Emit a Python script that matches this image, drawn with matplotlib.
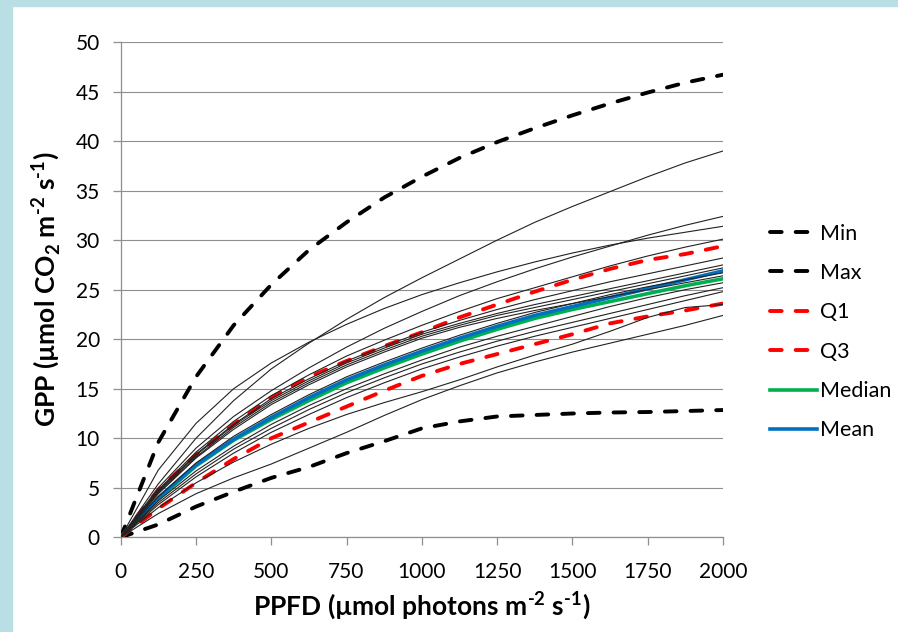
import matplotlib.pyplot as plt
from matplotlib.patches import Rectangle

plt.rcParams['font.family'] = ['Lato', 'DejaVu Sans']
plt.rcParams['mathtext.fontset'] = 'custom'
plt.rcParams['mathtext.rm'] = 'Lato:bold'
plt.rcParams['mathtext.bf'] = 'Lato:bold'

# PPFD steps
ppfd = [0, 125, 250, 375, 500, 625, 750, 875, 1000, 1125, 1250, 1375, 1500, 1625, 1750, 1875, 2000]

gpp_min = [0, 1.3, 3.1, 4.6, 6.0, 7.1, 8.5, 9.7, 11.0, 11.7, 12.2, 12.35, 12.5, 12.6, 12.65, 12.75, 12.85]
gpp_max = [0, 9.6, 16.2, 21.4, 25.5, 29.0, 31.8, 34.3, 36.4, 38.3, 39.9, 41.3, 42.6, 43.8, 44.9, 45.9, 46.7]
gpp_q1 = [0, 4.8, 8.3, 11.4, 14.1, 16.2, 17.8, 19.3, 20.7, 22.2, 23.5, 24.8, 26.0, 27.1, 28.0, 28.6, 29.4]
gpp_q3 = [0, 2.9, 5.5, 7.9, 10.0, 11.6, 13.2, 14.8, 16.3, 17.5, 18.5, 19.5, 20.5, 21.6, 22.3, 22.9, 23.6]
gpp_median = [0, 3.9, 7.2, 9.8, 11.9, 13.8, 15.6, 17.1, 18.5, 19.8, 21.0, 22.1, 23.0, 23.8, 24.6, 25.4, 26.1]
gpp_mean = [0, 4.0, 7.3, 9.9, 12.1, 14.1, 15.9, 17.4, 18.8, 20.1, 21.3, 22.4, 23.3, 24.2, 25.1, 26.0, 26.9]

# individual sites (thin black)
sites = [
    [0, 5.4, 10.0, 13.8, 17.0, 19.6, 22.0, 24.2, 26.2, 28.1, 30.0, 31.8, 33.4, 34.9, 36.4, 37.8, 39.0],
    [0, 6.8, 11.5, 15.0, 17.6, 19.7, 21.5, 23.1, 24.5, 25.7, 26.8, 27.8, 28.7, 29.5, 30.2, 30.8, 31.4],
    [0, 5.0, 9.0, 12.2, 14.8, 17.1, 19.2, 21.1, 22.8, 24.4, 25.8, 27.1, 28.3, 29.4, 30.5, 31.5, 32.4],
    [0, 4.8, 8.6, 11.7, 14.3, 16.4, 18.3, 19.9, 21.4, 22.8, 24.1, 25.2, 26.3, 27.4, 28.4, 29.3, 30.1],
    [0, 4.7, 8.4, 11.4, 14.0, 16.0, 17.8, 19.3, 20.7, 21.9, 23.0, 24.0, 24.9, 25.8, 26.6, 27.4, 28.2],
    [0, 4.6, 8.3, 11.3, 13.8, 15.8, 17.6, 19.1, 20.5, 21.6, 22.6, 23.5, 24.3, 25.1, 25.9, 26.7, 27.5],
    [0, 4.5, 8.1, 11.1, 13.6, 15.6, 17.4, 18.9, 20.3, 21.4, 22.4, 23.2, 24.0, 24.8, 25.6, 26.4, 27.2],
    [0, 4.4, 8.0, 10.9, 13.4, 15.4, 17.2, 18.7, 20.1, 21.2, 22.1, 22.9, 23.6, 24.3, 25.0, 25.7, 26.4],
    [0, 4.1, 7.5, 10.2, 12.4, 14.4, 16.2, 17.7, 19.1, 20.4, 21.6, 22.7, 23.6, 24.5, 25.3, 26.0, 26.7],
    [0, 3.7, 6.7, 9.2, 11.4, 13.3, 15.0, 16.5, 17.9, 19.2, 20.3, 21.3, 22.3, 23.3, 24.2, 25.0, 25.7],
    [0, 3.5, 6.4, 8.9, 11.0, 12.9, 14.6, 16.1, 17.5, 18.7, 19.8, 20.8, 21.7, 22.6, 23.5, 24.4, 25.2],
    [0, 3.3, 6.1, 8.5, 10.6, 12.4, 14.1, 15.6, 17.0, 18.2, 19.3, 20.3, 21.2, 22.1, 23.0, 23.9, 24.8],
    [0, 3.0, 5.5, 7.6, 9.4, 11.0, 12.4, 13.6, 14.7, 15.9, 17.2, 18.4, 19.5, 20.8, 22.2, 23.2, 23.5],
    [0, 2.4, 4.4, 6.0, 7.4, 9.0, 10.6, 12.3, 13.9, 15.3, 16.6, 17.7, 18.7, 19.6, 20.5, 21.4, 22.4],
]

fig = plt.figure(figsize=(8.98, 6.32), dpi=100)
# light blue frame at the left and top
fig.patches.append(Rectangle((0, 0), 12 / 898, 1, transform=fig.transFigure, color='#b9dfe4', zorder=0))
fig.patches.append(Rectangle((0, 1 - 6 / 632), 1, 6 / 632, transform=fig.transFigure, color='#b9dfe4', zorder=0))

ax = fig.add_axes([0.1344, 0.1498, 0.6707, 0.7837])

for s in sites:
    ax.plot(ppfd, s, color='#222222', lw=0.8, zorder=5)

dash = (0, (3.0, 3.6))
ax.plot(ppfd, gpp_min, color='black', lw=2.8, ls=dash, dash_capstyle='round', label='Min', zorder=3)
ax.plot(ppfd, gpp_max, color='black', lw=2.8, ls=dash, dash_capstyle='round', label='Max', zorder=3)
ax.plot(ppfd, gpp_q1, color='#ff0000', lw=2.8, ls=dash, dash_capstyle='round', label='Q1', zorder=3)
ax.plot(ppfd, gpp_q3, color='#ff0000', lw=2.8, ls=dash, dash_capstyle='round', label='Q3', zorder=3)
ax.plot(ppfd, gpp_median, color='#00b050', lw=2.6, label='Median', zorder=4)
ax.plot(ppfd, gpp_mean, color='#0070c0', lw=2.6, label='Mean', zorder=4)

ax.set_xlim(0, 2000)
ax.set_ylim(0, 50)
ax.set_xticks(range(0, 2001, 250))
ax.set_yticks(range(0, 51, 5))
ax.grid(axis='y', color='#8f8f8f', lw=0.8)
ax.set_axisbelow(True)
for side in ['top', 'right']:
    ax.spines[side].set_visible(False)
for side in ['left', 'bottom']:
    ax.spines[side].set_color('#8f8f8f')
    ax.spines[side].set_linewidth(0.9)
ax.tick_params(axis='both', colors='#8f8f8f', labelcolor='black', labelsize=15, length=6, width=0.9)
ax.tick_params(axis='y', pad=9)
ax.tick_params(axis='x', pad=12)

ax.set_xlabel('PPFD (µmol photons m$^{\\text{-2}}$ s$^{\\text{-1}}$)', fontsize=19, fontweight='bold', labelpad=5)
ax.set_ylabel('GPP (µmol CO$_{\\text{2}}$ m$^{\\text{-2}}$ s$^{\\text{-1}}$)', fontsize=19, fontweight='bold', labelpad=9)

fig.legend(loc='center left', bbox_to_anchor=(770 / 898, 1 - 332 / 632), frameon=False,
           fontsize=15.5, handlelength=2.2, handletextpad=0.1, labelspacing=0.9,
           borderpad=0, borderaxespad=0)

fig.savefig('out.png', dpi=100, facecolor='white')
